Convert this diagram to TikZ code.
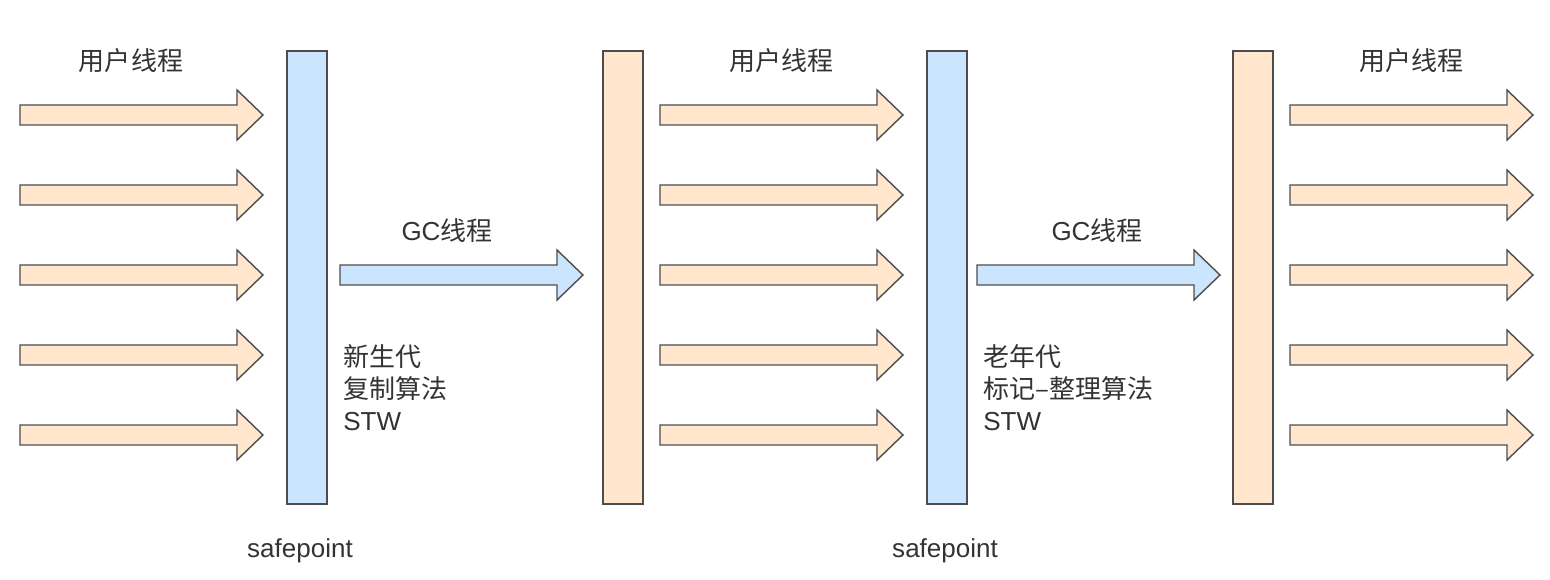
\documentclass[tikz,border=0pt]{standalone}
\usepackage{fontspec}
\setmainfont{Liberation Sans}
\newfontfamily\cjk{Noto Sans CJK SC}
\usepackage{tikz}
\usetikzlibrary{positioning}

\definecolor{thrfill}{HTML}{FFE6CC}
\definecolor{gcfill}{HTML}{CCE5FF}
\definecolor{edge}{HTML}{4D4D4D}
\definecolor{txt}{HTML}{333333}

\tikzset{
	thread/.pic={
		\draw[pic actions] (0,-10) -- (217,-10) -- (217,-25) -- (243,0)
			-- (217,25) -- (217,10) -- (0,10) -- cycle;
	},
	bar/.style={draw=edge, line width=0.8pt, minimum width=0.8cm, minimum height=9.06cm, inner sep=0pt},
	label/.style={text=txt, font=\fontsize{14.8}{18}\selectfont, inner sep=0pt},
	note/.style={label, align=left, anchor=north west, font=\fontsize{14.8}{18.2}\selectfont}
}

\begin{document}
\begin{tikzpicture}[x=0.02cm, y=-0.02cm]
	\useasboundingbox (0,0) rectangle (1550,580);

	% safepoint bars
	\node[bar, fill=gcfill] (sp1) at (307,277.5) {};
	\node[bar, fill=thrfill] (end1) at (623,277.5) {};
	\node[bar, fill=gcfill] (sp2) at (947,277.5) {};
	\node[bar, fill=thrfill] (end2) at (1253,277.5) {};

	% user threads
	\foreach \x in {20,660,1290}
		\foreach \y in {115,195,275,355,435}
			\pic[draw=edge, fill=thrfill, line width=0.8pt] at (\x,\y) {thread};

	% gc threads
	\pic[draw=edge, fill=gcfill, line width=0.8pt] at (340,275) {thread};
	\pic[draw=edge, fill=gcfill, line width=0.8pt] at (977,275) {thread};

	\node[label] (user1) at (131,61) {\cjk 用户线程};
	\node[label] (user2) at (781,61) {\cjk 用户线程};
	\node[label] (user3) at (1411,61) {\cjk 用户线程};

	\node[label] (gc1) at (447,231) {GC{\cjk 线程}};
	\node[label] (gc2) at (1097,231) {GC{\cjk 线程}};

	\node[note] (young) at (343,344) {{\cjk 新生代}\\{\cjk 复制算法}\\STW};
	\node[note] (old) at (983,344) {{\cjk 老年代}\\{\cjk 标记–整理算法}\\STW};

	\node[label] (spt1) at (300,551) {safepoint};
	\node[label] (spt2) at (945,551) {safepoint};
\end{tikzpicture}
\end{document}
